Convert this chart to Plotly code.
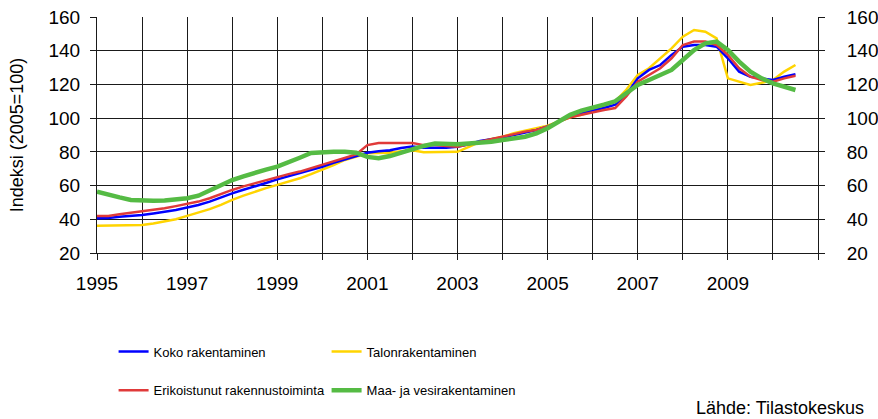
import plotly.graph_objects as go

# Quarterly periods 1995Q1 .. 2010Q3
years = list(range(1995, 2011))
quarters = [(y, q) for y in years for q in range(1, 5)][:63]
x_vals = [y + (q - 1) / 4 for (y, q) in quarters]

koko = [40.6, 40.8, 41.5, 42.0,
        42.5, 43.5, 44.5, 45.5,
        47.0, 48.5, 50.5, 53.0,
        55.4, 57.5, 59.4, 61.5,
        63.7, 65.5, 67.3, 69.0,
        71.2, 73.5, 75.6, 77.5,
        79.5, 80.3, 81.0, 82.3,
        83.2, 82.5, 82.3, 82.5,
        83.0, 84.5, 86.5, 87.5,
        88.5, 90.0, 91.5, 93.0,
        95.0, 98.0, 101.0, 103.0,
        104.5, 106.0, 108.0, 114.0,
        123.6, 128.6, 131.5, 137.5,
        142.4, 143.4, 143.4, 142.4,
        135.5, 127.6, 124.6, 123.6,
        122.6, 124.6, 126.0]

talo = [36.2, 36.2, 36.4, 36.5,
        36.6, 37.5, 38.6, 40.0,
        42.0, 44.0, 46.0, 48.5,
        51.5, 54.0, 56.4, 58.5,
        60.4, 62.3, 64.3, 66.8,
        69.3, 72.2, 75.2, 77.2,
        79.1, 79.3, 79.5, 80.3,
        81.0, 79.8, 79.8, 79.8,
        80.0, 83.0, 86.0, 87.7,
        89.0, 91.0, 92.5, 94.0,
        95.5, 98.0, 100.5, 102.0,
        104.0, 107.0, 110.0, 117.0,
        125.6, 129.6, 135.5, 141.4,
        148.3, 152.3, 151.3, 147.3,
        123.6, 121.6, 119.7, 121.0,
        122.6, 127.6, 131.5]

erik = [42.0, 42.0, 43.0, 43.8,
        44.5, 45.5, 46.5, 47.8,
        49.0, 50.5, 52.5, 55.0,
        57.4, 59.5, 61.3, 63.3,
        65.3, 66.8, 68.3, 70.3,
        72.2, 74.2, 76.2, 78.5,
        84.0, 85.2, 85.2, 85.2,
        85.2, 84.0, 84.0, 83.5,
        83.0, 84.5, 86.0, 87.3,
        88.6, 90.5, 92.0, 93.0,
        95.0, 98.0, 100.5, 102.0,
        103.5, 104.8, 106.0, 113.0,
        121.6, 125.6, 129.6, 135.5,
        143.4, 145.4, 145.4, 143.4,
        137.5, 129.6, 124.6, 122.6,
        121.6, 123.6, 125.2]

maa = [56.4, 55.0, 53.0, 51.5,
       51.0, 51.0, 51.2, 52.0,
       52.5, 54.0, 57.0, 60.5,
       63.3, 65.5, 67.7, 69.5,
       71.2, 73.5, 76.5, 79.3,
       80.0, 80.1, 80.1, 79.5,
       77.0, 76.2, 77.5, 79.5,
       82.0, 83.5, 85.0, 84.5,
       84.5, 85.0, 85.4, 86.0,
       87.0, 88.0, 89.0, 91.0,
       94.0, 98.0, 102.0, 104.5,
       106.0, 108.0, 110.0, 114.5,
       119.7, 122.6, 125.6, 128.6,
       134.5, 140.4, 144.4, 145.4,
       140.4, 133.5, 127.6, 123.6,
       120.6, 118.7, 116.7]

x_tick_vals = list(range(1995, 2012))
x_tick_text = [str(y) if (y % 2 == 1 and y <= 2009) else "" for y in x_tick_vals]
y_tick_vals = [20, 40, 60, 80, 100, 120, 140, 160]

FONT = "Liberation Sans, Arial, sans-serif"
GRID = "#1a1a1a"

fig = go.Figure()
series = [
    ("Talonrakentaminen", talo, "#FFD400", 2.5, "legend", 2),
    ("Koko rakentaminen", koko, "#0000FF", 2.5, "legend", 1),
    ("Erikoistunut rakennustoiminta", erik, "#E03A3A", 2.5, "legend2", 1),
    ("Maa- ja vesirakentaminen", maa, "#55BB44", 4.5, "legend2", 2),
]
for name, vals, col, w, leg, rank in series:
    fig.add_trace(go.Scatter(x=x_vals, y=vals, mode="lines", name=name,
                             line=dict(color=col, width=w),
                             legend=leg, legendrank=rank))

# invisible trace for right axis
fig.add_trace(go.Scatter(x=[1995], y=[20], yaxis="y2", mode="markers",
                         marker=dict(opacity=0), showlegend=False, hoverinfo="skip"))

axis_common = dict(showline=True, linecolor=GRID, linewidth=1, ticks="outside",
                   ticklen=6, tickcolor=GRID, showgrid=True, gridcolor=GRID,
                   gridwidth=1, zeroline=False, automargin=False,
                   tickfont=dict(family=FONT, size=19, color="#000"))

leg_common = dict(orientation="h", x=0.023, xanchor="left", yanchor="middle",
                  entrywidth=168, entrywidthmode="pixels",
                  font=dict(family=FONT, size=13, color="#000"),
                  bgcolor="rgba(0,0,0,0)", tracegroupgap=0, itemwidth=30)

fig.update_layout(
    width=878, height=419,
    margin=dict(l=97, r=60, t=17, b=166, autoexpand=False),
    paper_bgcolor="white", plot_bgcolor="white",
    font=dict(family=FONT, color="#000"),
    xaxis=dict(range=[1995, 2011], tickmode="array", tickvals=x_tick_vals,
               ticktext=x_tick_text, ticklabelstandoff=7, **axis_common),
    yaxis=dict(range=[20, 160], tickmode="array", tickvals=y_tick_vals,
               ticklabelstandoff=6,
               title=dict(text="Indeksi (2005=100)", font=dict(family=FONT, size=18),
                          standoff=20),
               **axis_common),
    yaxis2=dict(range=[20, 160], tickmode="array", tickvals=y_tick_vals,
                overlaying="y", side="right", ticklabelstandoff=18,
                **{**axis_common, "showgrid": False}),
    legend=dict(y=-0.418, **leg_common),
    legend2=dict(y=-0.582, **leg_common),
    showlegend=True,
    annotations=[dict(text="Lähde: Tilastokeskus", xref="paper", yref="paper",
                      x=1.067, y=-0.655, xanchor="right", yanchor="middle",
                      showarrow=False, font=dict(family=FONT, size=18, color="#000"))],
)

fig.write_html("out.html", config={"displayModeBar": False},
               post_script="document.body.style.margin='0';document.body.style.padding='0';")
